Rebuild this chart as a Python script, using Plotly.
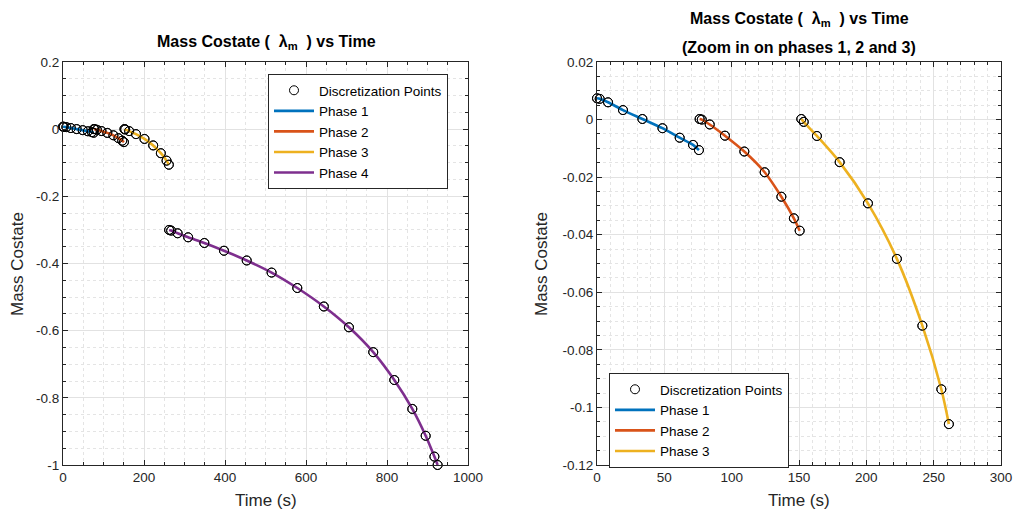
import plotly.graph_objects as go

# ---- data ----
t1 = [0.0, 2.0, 8.2, 19.3, 33.7, 48.6, 61.4, 71.3, 75.7]
y1 = [0.0074, 0.0072, 0.0060, 0.0033, 0.0002, -0.0030, -0.0063, -0.0088, -0.0106]
t2 = [76.2, 77.8, 83.7, 95.0, 109.4, 124.5, 136.9, 146.2, 150.5]
y2 = [0.0002, 0.0000, -0.0017, -0.0056, -0.0111, -0.0183, -0.0268, -0.0343, -0.0386]
t3 = [151.7, 153.5, 163.3, 180.2, 201.2, 222.7, 241.6, 255.7, 261.3]
y3 = [0.0002, -0.0008, -0.0057, -0.0148, -0.0291, -0.0484, -0.0716, -0.0937, -0.1058]
t4 = [262.0, 267.0, 283.0, 309.0, 349.0, 397.5, 453.6, 515.0, 578.5, 644.0,
      706.0, 766.0, 818.0, 862.5, 895.5, 917.0, 925.0]
y4 = [-0.300, -0.302, -0.310, -0.322, -0.339, -0.362, -0.391, -0.427, -0.473,
      -0.528, -0.590, -0.664, -0.747, -0.833, -0.913, -0.975, -1.000]

phase_names = ["Phase 1", "Phase 2", "Phase 3", "Phase 4"]
phase_colors = ["#0072BD", "#D95319", "#EDB120", "#7E2F8E"]

left_xticks = [0, 200, 400, 600, 800, 1000]
left_xticktext = ["0", "200", "400", "600", "800", "1000"]
left_yticks = [0.2, 0, -0.2, -0.4, -0.6, -0.8, -1.0]
left_yticktext = ["0.2", "0", "-0.2", "-0.4", "-0.6", "-0.8", "-1"]
right_xticks = [0, 50, 100, 150, 200, 250, 300]
right_xticktext = ["0", "50", "100", "150", "200", "250", "300"]
right_yticks = [0.02, 0, -0.02, -0.04, -0.06, -0.08, -0.1, -0.12]
right_yticktext = ["0.02", "0", "-0.02", "-0.04", "-0.06", "-0.08", "-0.1", "-0.12"]

W, H = 1019, 517
FONT = "Liberation Sans, Arial, sans-serif"
AX = "#262626"

phases = [(t1, y1), (t2, y2), (t3, y3), (t4, y4)]

fig = go.Figure()

def add_panel(xa, ya, n_phases, legend_name):
    for i in range(n_phases):
        t, y = phases[i]
        fig.add_trace(go.Scatter(
            x=t, y=y, mode="markers", xaxis=xa, yaxis=ya,
            marker=dict(symbol="circle-open", size=9, color="black", line=dict(width=1)),
            name="Discretization Points", showlegend=(i == 0), legend=legend_name,
            cliponaxis=False))
    for i in range(n_phases):
        t, y = phases[i]
        fig.add_trace(go.Scatter(
            x=t, y=y, mode="lines", xaxis=xa, yaxis=ya,
            line=dict(color=phase_colors[i], width=2.6, shape="spline", smoothing=0.8),
            name=phase_names[i], legend=legend_name, cliponaxis=False))
    for i in range(n_phases):
        t, y = phases[i]
        fig.add_trace(go.Scatter(
            x=t, y=y, mode="markers", xaxis=xa, yaxis=ya,
            marker=dict(symbol="circle-open", size=9, color="black", line=dict(width=1)),
            showlegend=False, cliponaxis=False, hoverinfo="skip"))

add_panel("x", "y", 4, "legend")
add_panel("x2", "y2", 3, "legend2")

def axis(domain, rng, tickvals, ticktext, minor_dtick, anchor):
    return dict(
        domain=domain, range=rng, anchor=anchor, automargin=False,
        tickvals=tickvals, ticktext=ticktext,
        showline=True, mirror="ticks", linecolor=AX, linewidth=1,
        ticks="inside", ticklen=5, tickcolor=AX,
        showgrid=True, gridcolor="#e2e2e2", gridwidth=1,
        zeroline=False,
        tickfont=dict(family=FONT, size=13.5, color=AX),
        minor=dict(dtick=minor_dtick, showgrid=True, gridcolor="#e4e4e4",
                   griddash="dot", gridwidth=1, ticks="inside", ticklen=3, tickcolor=AX),
    )

y_dom = [(H - 465) / H, (H - 62) / H]
fig.update_layout(
    width=W, height=H, autosize=False,
    margin=dict(l=0, r=0, t=0, b=0, autoexpand=False),
    paper_bgcolor="white", plot_bgcolor="white",
    font=dict(family=FONT, color=AX),
    xaxis=axis([63 / W, 468 / W], [0, 1000], left_xticks, left_xticktext, 50, "y"),
    yaxis=axis(y_dom, [-1, 0.2], left_yticks, left_yticktext, 0.05, "x"),
    xaxis2=axis([597 / W, 1001 / W], [0, 300], right_xticks, right_xticktext, 10, "y2"),
    yaxis2=axis(y_dom, [-0.12, 0.02], right_yticks, right_yticktext, 0.005, "x2"),
    legend=dict(x=268 / W, y=1 - 74 / H, xanchor="left", yanchor="top",
                bgcolor="white", bordercolor=AX, borderwidth=1,
                font=dict(family=FONT, size=13.5, color="black"),
                tracegroupgap=0, itemwidth=40),
    legend2=dict(x=609 / W, y=1 - 373 / H, xanchor="left", yanchor="top",
                 bgcolor="white", bordercolor=AX, borderwidth=1,
                 font=dict(family=FONT, size=13.5, color="black"),
                 tracegroupgap=0, itemwidth=40),
    showlegend=True,
)

def ann(text, x, y, size=14, bold=False, angle=0):
    fig.add_annotation(text=("<b>%s</b>" % text) if bold else text,
                       x=x / W, y=1 - y / H, xref="paper", yref="paper",
                       showarrow=False, textangle=angle,
                       font=dict(family=FONT, size=size, color="black" if bold else AX),
                       xanchor="center", yanchor="middle")

ann("Mass Costate (&nbsp;&nbsp;λ<sub>m</sub>&nbsp;&nbsp;) vs Time", 266, 42, 16, True)
ann("Mass Costate (&nbsp;&nbsp;λ<sub>m</sub>&nbsp;&nbsp;) vs Time", 799, 19, 16, True)
ann("(Zoom in on phases 1, 2 and 3)", 799, 47, 16, True)
ann("Time (s)", 266, 500, 17)
ann("Time (s)", 799, 500, 17)
ann("Mass Costate", 17, 264, 17, angle=-90)
ann("Mass Costate", 541, 264, 17, angle=-90)

fig.write_html("out.html")
